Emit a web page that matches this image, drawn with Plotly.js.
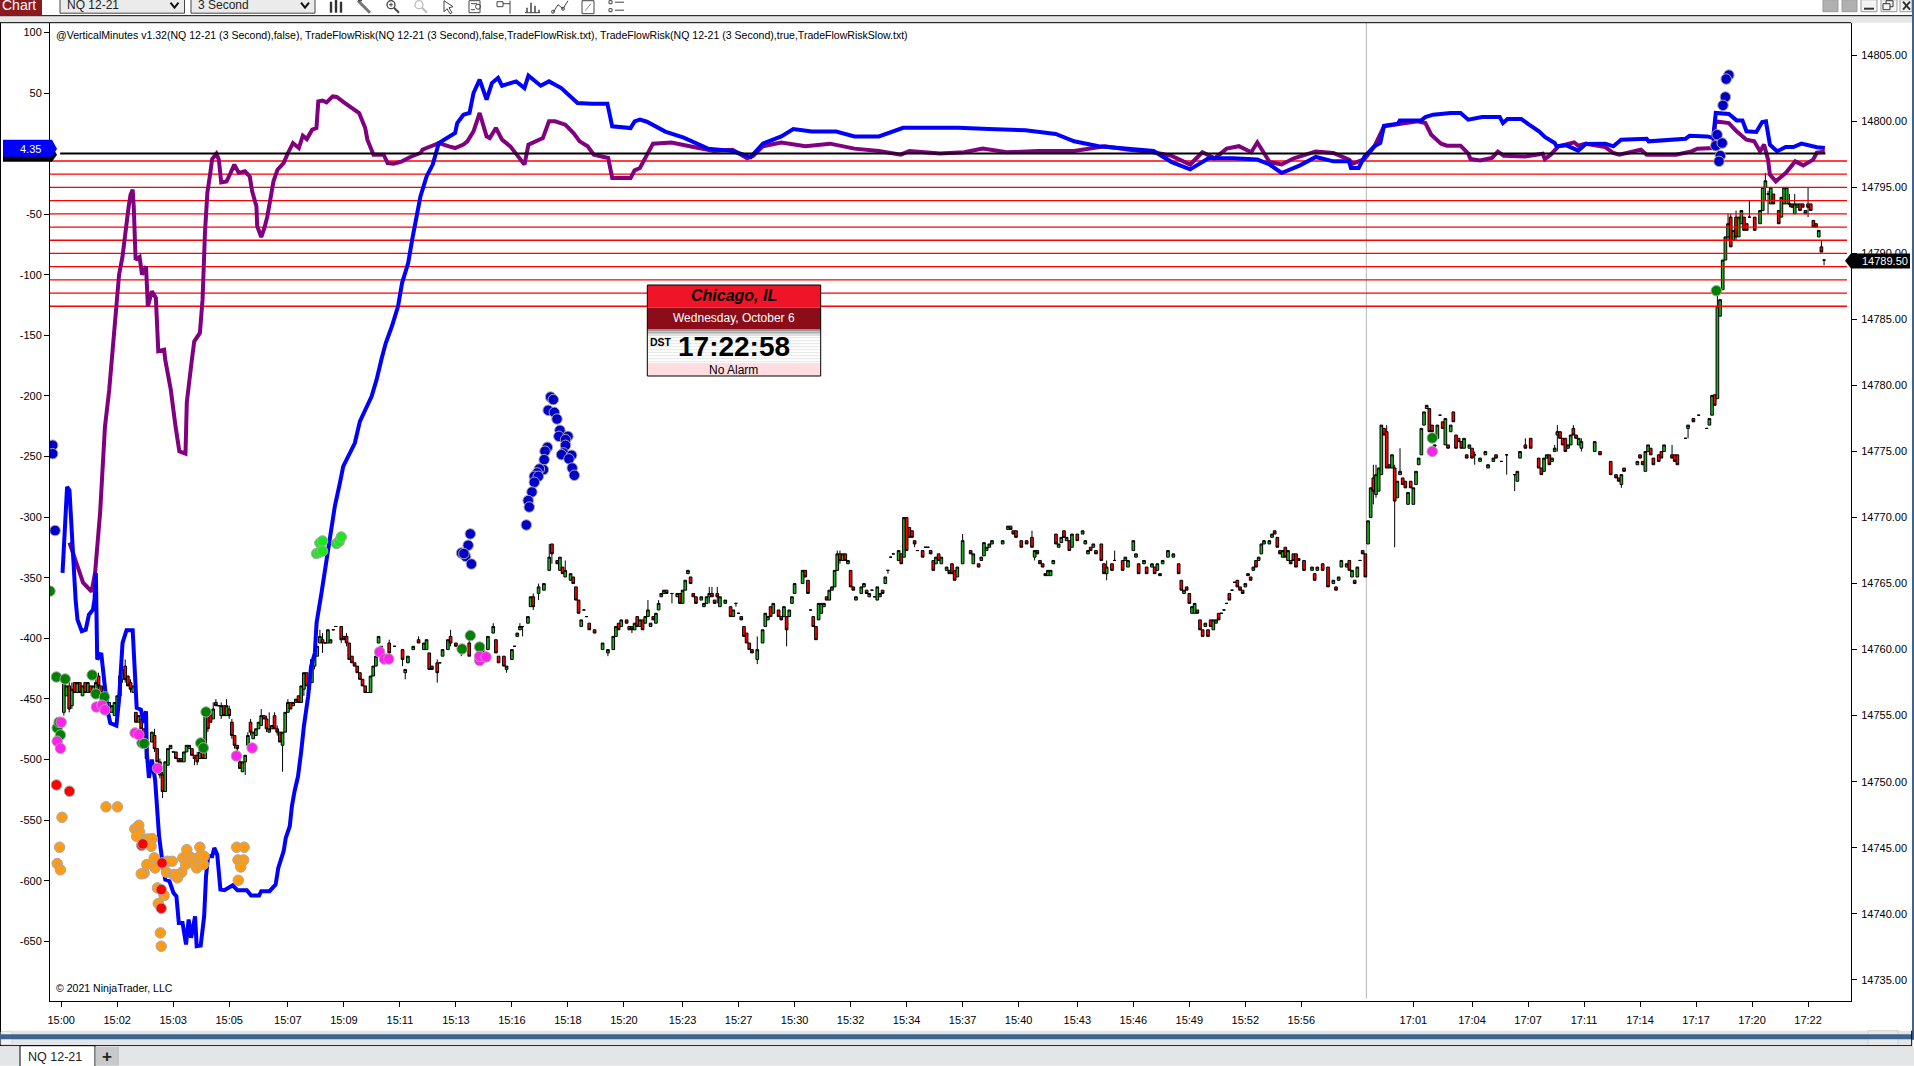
<!DOCTYPE html>
<html><head><meta charset="utf-8">
<script src="https://cdn.plot.ly/plotly-3.0.1.min.js"></script>
<style>html,body{margin:0;padding:0;background:#fff;overflow:hidden}#c{width:1914px;height:1066px}</style>
</head><body><div id="c"></div>
<script>
// ---------- DATA ----------
const tickBars=[0,21,42,63,85,106,127,148,169,190,211,233,254,275,296,317,338,359,381,402,423,444,465,507,529,550,571,592,613,634,655];
const tickLabels=['15:00','15:02','15:03','15:05','15:07','15:09','15:11','15:13','15:16','15:18','15:20','15:23','15:27','15:30','15:32','15:34','15:37','15:40','15:43','15:46','15:49','15:52','15:56','17:01','17:04','17:07','17:11','17:14','17:17','17:20','17:22'];
const riskTicks=[100,50,0,-50,-100,-150,-200,-250,-300,-350,-400,-450,-500,-550,-600,-650];
const riskTickLabels=['100','50','','-50','-100','-150','-200','-250','-300','-350','-400','-450','-500','-550','-600','-650'];
const priceTicks=[14805,14800,14795,14790,14785,14780,14775,14770,14765,14760,14755,14750,14745,14740,14735];
const priceTickLabels=['14805.00','14800.00','14795.00','14790.00','14785.00','14780.00','14775.00','14770.00','14765.00','14760.00','14755.00','14750.00','14745.00','14740.00','14735.00'];
const redLevels=[14797,14796,14795,14794,14793,14792,14791,14790,14789,14788,14787,14786];
const priceBase=14700;
// rows: bar, open, close, [high, low]  (price minus priceBase)
const barsOpening=[[1,55.25,57.5,57.5,55],[2,56.5,57.25],[3,57.25,55.5,57.75,55.25],[4,55.75,57,57.5,55.5],[5,57.5,56.75],[6,56.75,57.5],[7,57.5,56.75],[8,56.5,57.25],[9,57.5,56.75],[10,56.75,57.5],[11,57.25,56.75],[12,56.5,57.25],[13,56.75,57.5,57.75,56.5],[14,58,57.25,58.25,57],[15,57.25,56.75],[17,56.75,56],[18,56,55.25],[19,55.25,55.75],[20,55,56],[21,55,56.5],[22,56.5,58,58.25,56.5],[23,57.75,58.5,59,57.5],[24,58.75,57.75,59.25,57.5],[25,58,57.25],[26,57.5,57,57.75,56.75],[27,56.75,57.25],[28,55.25,54.5],[29,54.5,55],[30,54.75,54],[31,54,52.75,54,52.5],[32,52.5,51.75,52.75,51.25],[34,53,53.75],[35,53.5,52.5,54,52.25],[36,52.5,51.5],[37,51.5,50.5,51.75,50.25],[38,50.5,49.25,50.75,48.75],[39,49.25,51.5,51.5,49.25],[40,51.25,52.5],[41,52.5,52.75],[42,52.25,52.25],[43,52.25,51.75],[44,51.75,51.5],[45,51.75,51.5],[46,51.5,52.25],[47,52.25,52.75],[48,52.5,52.75],[49,52.5,52],[50,52,51.75,52,51.25],[51,52,51.5,52.25,51.25],[52,51.75,52.25],[53,52.25,51.75],[54,51.75,55.25,55.5,51.75],[55,55,54,55.25,53.75],[56,55,54.5],[57,54.75,55.5,56,54.75],[58,56,55.75,56.25,55.75],[59,55.75,55.75],[60,55,55.75,56,54.75],[61,55.75,55],[62,55,55.75,56.25,55],[63,55.5,55,55.75,54.75],[64,54.5,53.5,54.75,53.25],[65,53.5,52.75,53.5,52.5],[66,52.75,52.5,52.75,52],[67,51.5,51,51.75,51],[68,50.75,51.5],[69,51.5,52,52,50.5],[70,52.75,53.5,53.75,52.5],[71,54.5,53.75,54.75,53.5],[72,53.25,53.75],[73,53.5,54],[74,54,54.5],[75,54.25,55,55.5,54.25],[76,55,54.75],[77,54.75,54,55,53.75],[78,53.75,54,55.25,53.75],[79,54,54.25],[80,55,54,55.25,54],[81,54,53.75,54.25,53.5],[82,53.75,53],[83,52.75,53.75,53.75,50.75],[84,53.75,55.25],[85,55.25,56,56.25,55.25],[86,56,55.5],[87,55.75,56],[88,56,56.25],[89,56.5,56],[90,56,57.25],[91,57,58.25,58.25,56.5],[92,58.25,57.25],[93,57,57.5],[94,57.5,59.25],[95,58.75,59.5,59.75,58.5],[96,59.5,60.25],[97,60.5,61,61.5,60.5],[98,60.75,60.5,61.25,59.75],[99,60.5,60.5],[100,60.5,61.5],[101,60.5,60.75],[102,61.5,61.5],[103,61.75,61.75],[105,61.75,60.75,61.75,60.5],[106,61,60.75],[107,61,60.5,61.25,60.25],[108,60.5,59.25],[109,59.5,59],[110,59,58.75],[111,58.75,58.25],[112,58.25,57.75],[113,57.75,57.25],[114,57.25,56.75],[115,56.75,56.75],[116,56.75,58],[117,58,58.75],[118,58.75,59.5]];
const barsEarly=[[119,60.5,61],[120,60.25,60],[123,60.5,59.75,60.75,59.5],[125,60.25,60.25],[128,60,59.25,60,58.75],[129,58.25,58.5,58.5,57.75],[130,59,59.5],[132,60,60.25],[134,60.75,60.5,61,60.5],[136,60,60.5],[137,60,60.75],[138,59.75,58.5],[139,58.75,58.5],[141,59,58.25,59.25,57.5],[142,59,59],[143,59.5,60],[145,60,60.75],[146,61,60.5,61.5,60.25],[148,60.5,60.25],[150,59.75,60,60.25,59.5],[153,60.5,59.5,61.5,59.5],[157,60,59.5],[158,60,59.5],[160,60,61],[162,61.25,61.75,62,61.25],[163,60.75,59.75],[164,59.5,59],[166,59.5,58.75],[167,58.5,58.75,58.75,58.25],[169,59.25,60],[170,60.25,60.25],[171,61,61.25],[172,61.5,61.75,62,61.5],[173,61.75,61.75,61.75,61],[175,62,62.5],[176,63.25,64],[177,64,63.25,64.25,63],[179,64.25,64.75,65,63.75],[181,64.5,65],[183,66,67,68,66],[184,68,67.25,68,66.5],[186,66.75,66.5],[187,66,67],[188,66.25,65.75],[189,65.5,66,66.75,65.5],[191,65.25,65.75],[192,65.5,65],[193,64.75,63.75],[194,63.75,62.75],[195,61.75,62.25],[196,63,63],[197,62.5,62.5],[198,62,61.5],[200,61.5,61.25]];
const barsMidday=[[203,60,60.5],[205,59.75,60,60,59.5],[207,60,61],[208,61,61.75],[209,62,61.5],[210,61.75,62.25],[212,62.25,62],[213,61.75,61.5],[214,61.75,61.5,61.75,61.25],[215,61.5,62],[216,62.5,61.75],[217,61.75,62.25],[218,62.25,61.5],[219,62,62.5],[220,62.5,63,63.75,62.5],[221,61.75,62],[222,62.5,62.25],[223,62,62.75],[224,63,63.5,63.75,63],[225,64,64.25],[226,64.25,64.5],[227,64.5,64.25],[229,64.25,64.25,64.25,63.5],[231,64,64.25],[232,64.25,63.5],[233,63.5,64.5],[234,64.5,65.25],[235,65.75,66],[236,65.5,65],[237,64.25,64],[238,64,63.5],[240,63.75,64],[241,63.25,63.5],[242,63.5,64],[243,64,64.25,64.75,63.5],[244,64.25,64,64.75,64],[245,63.75,63.5],[246,64.25,64,64.75,63.5],[247,63.25,64],[249,63.5,63.75],[251,63.25,62.5],[252,62.5,63],[253,63.5,63.5,63.5,63.25],[254,62.75,62.75],[255,62.5,62.25],[256,61.75,61],[257,61.25,60.5],[258,60.5,60],[259,60,59.75],[261,59.25,60,61,58.9],[263,60.5,61.5],[264,61.75,62.75],[265,62.25,62.5],[266,63.25,62.5],[267,62.75,63.5],[269,63,62.5],[270,62.5,62.25],[271,62.5,63.25],[272,62.5,61.5,62.5,60.25],[273,62.5,63],[274,63.5,64],[275,64.25,65],[278,65,66],[279,66,65.5],[280,65.25,64.25],[281,63,63],[282,62.5,61.75],[283,61.75,60.75],[284,62.25,63.5],[285,62.75,63.5],[286,63.25,63.5],[287,64,63.75],[288,63.75,64.5],[289,64.5,64.75],[290,64.75,66],[291,66,67.25,67.5,66],[292,67.25,66.75,67.5,66.5],[293,66.75,67.25],[294,67.25,66.75],[295,66.5,66.75],[296,66,64.75],[297,64.75,64.5],[298,63.75,64],[300,64.25,64.75],[301,64.75,65],[302,64.5,64.25],[303,64,64.25],[304,64.5,64.5],[305,64,64],[306,63.75,64.75],[307,64,64.25],[308,64.5,64.25],[309,65,65.5],[310,66,66,66,65.75],[311,67,67],[312,67.25,67.25],[314,66.75,67.5],[315,67.25,66.5],[316,67,70],[317,70,67.5],[318,69.25,68.5],[319,69,68.5],[320,68.25,68,68.25,67.75],[321,67.5,67.5],[323,67.5,67],[324,67.75,67.75],[325,67.75,67.75],[326,67.5,67.25],[327,66.75,66],[328,66.5,67],[329,67.25,66.75],[330,66.5,67],[332,66,66.25],[333,66,65.75],[334,66.5,65.75],[335,66,65.25],[336,65.5,66.25],[338,66.5,68.25,68.75,66.5],[341,67.5,67.25],[342,66.5,67.25],[344,66.5,66.25],[345,66.75,67],[346,67.1,68.1],[347,67.5,67.75],[348,67.75,68],[349,68,68.25]];
const barsLate=[[353,68,68.25],[355,69.1,69.35],[356,69.35,69.1],[357,69,68.75],[358,69,68.5],[360,68.25,67.75],[362,68.25,68],[364,68.5,67.75,69,67.75],[365,67,67.5,67.5,66.75],[366,67.5,67.25],[367,66.75,66.5],[368,66.5,66.25],[369,65.75,65.6],[370,65.6,66],[371,65.6,66],[372,66.5,66.75],[373,68.75,68],[374,67.75,68],[375,68.1,68.5],[376,69,68.5],[377,68.25,68.5],[378,68.25,67.5],[379,67.75,68.75],[381,68.75,68.25],[383,68.75,69],[384,68,68.25],[385,67.25,67.5],[386,67.75,67.5],[387,67.75,68],[388,67.5,67.25],[390,68,66.75],[391,66.5,65.75],[392,65.75,66.25,66.75,65.25],[394,66.5,66],[395,66.75,66.75,67.5,66.75],[398,66.75,66],[399,66.75,67],[400,66.25,66.75],[402,67.5,68.25],[403,67,67.25],[404,66.5,65.75],[406,66.5,66.75],[407,66.25,65.75],[409,66.25,66.5],[410,66.25,65.75],[411,66,66.5],[412,65.75,65.6],[413,66.5,66.75],[415,67,67.5],[417,67,67.25],[419,66.5,65.75],[420,65.25,64.5],[421,64.25,64.5],[422,64.75,64.5],[423,64.25,63.5],[424,62.75,63.25],[425,62.75,63.5],[426,63,62.75],[427,62.25,61.5],[428,61.5,61],[429,61.75,62],[430,61.5,61],[431,62.25,61.75],[432,61.5,62.25],[433,62,62.25],[434,62.75,62.25],[435,62.75,62.75],[436,63,63],[437,63.5,63.5],[438,64.25,63.75],[439,64.5,64.5],[440,65.1,65.1],[441,65.25,64.75],[442,64.75,64.5],[443,64.5,64.25],[444,64.75,65],[445,65.6,65.75],[446,65.5,65.25],[447,66,66.25],[448,66.75,66.25],[449,66.75,67],[450,67.25,68],[451,68,68.25],[453,68,68.25],[454,68.5,68.75],[455,69,68.75],[456,68.5,67.75],[457,67.5,67.25],[458,67,67.5],[459,67.75,67],[460,66.75,67.5],[461,66.75,66.5],[462,67.25,66.75],[463,67.25,66.25],[464,66.9,66.75],[466,66.75,66],[469,66,66.25],[470,65.75,65.25],[471,66,66.25],[473,66.5,66],[475,66.25,64.75],[477,65,65.25],[478,64.75,64.5],[479,65.25,65.5],[480,66.25,66.75],[482,66.25,66.5],[483,66.75,66],[484,65.5,66],[485,65.25,65],[486,65.5,66.25],[487,66.75,66.75],[488,67.5,67.25],[489,67.25,65.5]];
const barsClose=[[490,68,69.75],[491,70,72.25],[492,73,72,74,71],[493,71.75,73.25,74,71.5],[494,72,73.75],[495,73.25,77],[496,76.75,76.25],[497,76.5,73.75,77,73.75],[498,74,73.75],[499,73.75,74.75],[500,73.75,71.25,74,67.75],[501,71.5,72.75],[502,73.25,73.5,75.25,73.25],[503,73,72.5],[504,72.75,72.25],[505,71,71.9],[506,72.75,72.25],[507,71,72.25],[508,72.5,73.5],[509,74,74.5],[510,74.75,76.75],[511,77,78],[512,78.25,78.5],[513,78.25,76.5],[514,77,76.5],[515,75.5,75.4],[516,76,77],[517,77.75,77.75],[518,77.25,76.75],[519,75.5,77.5],[520,75.5,75.25],[521,76.5,77],[522,78,77.25],[523,76.25,75.25],[524,76,75.75],[525,75.75,75.25],[526,75.25,76],[527,74.75,74.5],[528,75.25,75.5],[529,75.25,74.5],[530,74.75,74.75,75,74],[532,74.25,74.5],[534,74.75,75],[535,73.75,74],[537,74.25,74.5],[538,74.75,74.5],[540,74.25,74.25],[542,74.75,74.75,74.75,73.25],[545,73.25,73.25,73.25,72],[546,72.75,73.5],[547,74.5,75],[549,75.5,75.25,76,75.25],[551,76,75.25],[554,74.5,73.75],[555,73.75,73.25],[556,73.5,74.5],[557,74.5,74.75],[558,74.75,74],[559,74.25,74.5],[560,75,75.25,75.5,75],[561,76.25,76.5,77,75],[562,76.5,76],[563,76,75.5],[564,76,75],[565,75.25,75.5],[566,75.5,76.25],[567,76.75,76.25,77,76.25],[568,76.25,76],[569,75.5,76],[570,75.25,75.75,76,75],[575,75,75.75],[577,75,74.75],[581,74.25,73.25],[583,73.25,73],[584,73,72.75],[585,72.5,73.25,73.25,72.25],[586,73.75,73.5],[591,74,74.25],[592,74.75,74.5],[593,74.25,74],[594,73.5,75],[595,75,75.5],[596,75.25,74.75],[597,74.5,74],[599,74.75,74.25],[600,75,74.5],[601,75,75.5],[604,74.75,74.5,75.5,74.5],[605,74.75,74.25],[606,74.75,74],[609,76,76],[610,76.75,77,77,76],[612,77.5,77.25],[614,77.75,77.75],[617,76.75,76.75],[618,77,77.5],[619,77.75,79.25],[620,79.3,78.5],[621,79,86,87,79],[622,85.25,86.5],[623,87.25,89.5],[624,89.5,91.25],[625,91.25,92.25,93,91],[626,92.75,90.5,93,90.5],[627,91,91.75],[628,92.75,91.25,93.25,91],[629,91.25,92.75],[630,92.25,93.25],[631,92.75,91.75],[632,92.25,91.75],[633,92.75,92.75,94,92.75],[635,92.75,91.75],[637,92.25,93.25],[638,93.25,95],[639,95,95.5,96.1,94],[640,94.5,94.5,94.75,93],[641,93.75,95],[642,94.5,93.75],[644,93.25,92.25],[645,92.75,94.25],[646,93.75,95],[647,93.75,95],[648,93.75,93.75,94.5,93.5],[649,93.75,93.5],[650,93,93.75,94.5,93],[651,93.5,93.75],[652,93.75,93.25],[653,93.75,93.5],[654,93.25,93],[655,93.75,93.5,95,92.75],[656,93.75,93.25],[657,92.5,92],[658,92.25,92],[659,91.25,91.75],[660,90.5,90.1,91,90.1],[661,89.5,89.5,89.5,89.1]];

const purpleBar=[3.1,5.9,8.2,11.4,12.7,14.6,16.4,18,19.1,19.9,21.1,21.7,23,23.9,25.3,26,26.8,27.2,27.9,29.4,30.3,31.8,32.5,34,35.5,36.4,38.6,39,41.1,42.9,44.3,46.6,47.1,49,49.9,52,53,53.9,54.8,55.9,56.6,58.2,59.1,60,62,63.5,64.9,66.6,68.9,70.7,71.6,73.2,73.5,75,76.2,77.3,78.4,79.6,81.1,83.4,84.9,86.9,89.1,90.6,92.1,94.1,95.7,96.4,98,99.5,101.8,103.3,106.4,109.4,111.7,114,114.8,117.1,120.9,122.4,124.7,127.8,130.9,134.7,135.5,137,141.6,145.4,147.7,150.8,152.3,154.6,156.9,159.5,160.7,163,165.3,168.4,173.7,175.2,177.5,180.6,182.9,185.2,189,192.1,194.4,197.4,199.7,205.1,206.6,213.5,215,217,221.9,228.8,235.7,244.8,251.7,257.2,259.5,263.1,270,279.1,288.3,297.4,306.6,314.8,318,329.5,338.6,345.5,354.6,366.1,379.8,391.3,400.4,409.6,416.4,423.3,427.9,432.5,437,441.6,446.2,448.5,453.1,457.6,462.2,470.4,477,482.9,484.3,488.7,490.2,492.4,496,508.6,511.5,513.7,517.4,519.6,524.7,527.6,528.4,532,536.5,538.7,540.9,548.9,555.5,556.3,558.5,561.4,567.3,568.8,571.7,579,582,584.2,592.3,594.5,605.5,611.3,613.5,619.4,620.2,625.3,628.2,631.9,634.8,637,638.5,640,640.7,642.9,646.6,650.2,653.2,656.9,658.3,661.3];
const purpleRisk=[-321,-339,-354,-361.5,-346,-296,-225.5,-195,-168.6,-142.5,-120.5,-99.9,-84.8,-65.5,-43.5,-33.9,-29.8,-43.5,-87.5,-85.3,-99.9,-93,-126,-113.6,-119.1,-163.1,-161.8,-170,-195,-225.5,-245.6,-247.6,-205,-170,-154.9,-148,-120.5,-65.5,-32.5,-16,-4.5,-0.1,-5,-23.7,-22.9,-16,-9.1,-16,-14.6,-18.8,-31.1,-43.5,-60,-68.8,-61.4,-51.8,-35.3,-22.9,-13.3,-7.8,-0.1,8.7,4.6,14.8,12,19.7,21.1,43.1,43.7,42.3,47.2,46.7,41.7,37.6,33.5,21.1,11.5,-0.9,-0.9,-7.8,-8.3,-6.4,-2.8,0.5,3.2,4.6,8.7,6,4.6,7.4,10.1,18.4,33.5,14.2,12.8,21.1,11.5,6,-9.1,7.4,10.1,12.8,26.6,26.6,23.9,17,10.1,6,-0.9,-3.6,-20.1,-20.1,-13.8,-11.9,8.2,9.2,6.1,2.1,3.1,-3.9,-1.9,6.1,9.2,6.1,8.2,4.1,2.1,-0.9,2.1,0.1,1.1,4.1,1.1,2.1,2.1,6.1,3.1,1.1,-1.9,-9,1.1,-3.9,4.1,6.1,1.1,9.2,-7,-9,-3.9,1.8,0.5,-5,-8.3,-4.5,-0.1,6,22.5,26.6,25.2,15.6,8.2,6.5,6.5,-0.1,-4.5,-5.6,-3.6,1.6,-1.7,-2.3,-0.1,-4.5,-0.9,6,9.3,6.5,8.2,5.4,0.5,-0.9,3.2,-0.9,-0.9,1.8,4,4.6,26.6,25.2,18.4,11.5,10.1,1.8,7.4,-5,-17.4,-22.9,-16,-6.4,-9.7,-5,0.9,1.6];
const blueBar=[0.5,2.2,3.1,4.5,5.4,6.1,7.7,9.2,10.4,11.9,12.5,13,13.5,15,16.1,17.3,18.4,20.7,21.7,23,24.5,26.8,27.5,28.3,29.9,30.9,31.8,32.1,32.9,34,35.2,36,36.7,38,39,40.6,42.1,43.2,44.1,45.5,46.8,47.8,48.7,50.2,50.8,52.3,53.6,54.3,55.1,56.6,57.4,58.5,59.7,61.2,64.3,66.1,69.6,71.2,74.2,75,78.1,80.4,81.4,83.4,84.2,85.7,86.5,87.5,88.8,90,91,92.6,93.7,95.1,95.75,97.6,99.5,101.4,102.6,104.5,105.75,110.1,112,116.4,118.25,120.2,121.7,124,126.3,127.8,130.1,131.6,133.2,134.7,137,139.3,141.6,147.7,148.5,150.8,153.1,154.6,156.9,157.6,159.5,161.5,163.8,165.3,170.6,173.7,175.2,179.8,182.9,187.5,193.6,199,204.8,206.6,213.5,215,217,219.6,226.5,233.4,242.5,251.7,258.5,263.1,270,274.5,281.4,290.6,297.4,306.6,315.7,324.9,336.3,347.8,361.5,372.9,379.8,389,400.4,409.6,416.4,423.3,430.2,439.3,448.5,453.1,457.6,462.2,464.5,470.4,477,482.9,483.6,486.5,488.7,492.4,494.6,496,501.2,501.9,510,511.5,514.4,521,524.7,527.6,532.8,539.4,540.6,542.3,547.5,550.4,554.1,556.3,560,560.7,564.4,568.8,571.7,579,582,584.9,594.5,595.2,609.1,610.6,617.2,619.4,620.4,625.3,628.2,630.4,631.9,635.6,637.8,639.2,640.7,643.4,646.6,649.5,652.5,658.3,661.3];
const blueRisk=[-346,-275,-278,-336,-368,-384.5,-394.1,-392.8,-380.4,-376.3,-368,-346,-417.5,-412,-436.8,-458.8,-469.8,-472,-450.5,-403.8,-393.3,-393.3,-423,-457.4,-458.8,-469.8,-460.1,-494.5,-515.1,-500,-516.5,-546.8,-563.3,-585.3,-599,-600.4,-610,-612.8,-634.8,-634.8,-652.6,-632,-647.1,-629.3,-654,-653.5,-629.3,-596.3,-579.8,-579.8,-572.9,-578.4,-607.3,-607.8,-603.7,-607.8,-607.8,-612.2,-612.2,-608.6,-608.6,-603.1,-589.4,-575.6,-564.6,-555,-538.5,-526.1,-513.8,-493.1,-472.5,-447.8,-423,-412,-387.3,-362.5,-335,-310.3,-291,-271.8,-258,-238.8,-220.9,-200.3,-186.5,-168.6,-156.3,-142.5,-126,-106.8,-90.3,-71,-51.8,-35.3,-18.8,-9.1,8.7,17,25.2,32.1,33.5,50,61,56.9,44.5,58.2,62.4,56,59.6,54.1,64.3,56,59.6,54.1,41.7,41.2,41.2,22.5,21.1,26.6,28,26.3,18.2,13.2,4.1,2.1,-2.9,8.2,14.2,20.2,18.2,18.2,14.2,14.2,21.3,21.3,21.3,20.2,19.2,16.2,10.2,6.1,4.1,2.1,-7,-13,-3.9,-3.9,-4.9,-9,-16,-12,-9.7,-2.8,-6.4,-6.4,-11.9,-11.9,-2.3,6,8.7,23,24.7,27.4,27.4,30.2,32.1,33.5,33.5,28,30.2,30.2,25.2,28.5,28.5,23.9,18.4,13.7,8.7,6,6.8,2.4,7.9,8.2,6,11.5,12.3,10.1,12.3,14.8,14.2,12.9,33.5,32.7,27.4,27.4,18.4,17.8,26,26.6,7.4,1.9,5.4,5.4,8.2,5.2,4.6];
const zeroBars=[-0.4,661.5];
const zeroRisk=[0,0];

const darkGreenBar=[-4.2,-1.8,1.5,11.6,13,16.2,-1.5,-0.8,-0.3,30.3,31.1,52.3,53.3,54.3,150.3,153.4,156.9,514.1,620.6];
const darkGreenVal=[-361,-431.8,-433.5,-430.2,-445.8,-448.3,-473.9,-469.2,-479.7,-486.3,-486.8,-486.3,-490.4,-460.7,-408.7,-397.7,-407.1,-234.6,-113.1];
const magentaBar=[0,-1.5,-0.3,13.2,15.3,16.4,27.7,29.1,36.1,65.7,71.6,119.4,121.2,122.8,156.9,156.9,159.3,514.1];
const magentaVal=[-469.2,-484.9,-490.7,-456.6,-455.2,-459,-478,-479.4,-507.2,-497,-490.4,-411.2,-417,-417,-418.3,-414.8,-415.3,-245.7];
const redBar=[-1.8,3.1,30.2,30.6,37.8,37.5,37.5];
const redVal=[-520.9,-526.1,-570.7,-569.6,-585.3,-622.7,-607.3];
const orangeBar=[16.8,21.1,0.3,-0.6,-1.5,-0.3,27.6,29.1,29.4,28.3,31.4,32.4,34.1,33.7,34.9,32.1,35.2,31.1,30,36.1,38.6,36.4,37.2,37.5,39.8,41.6,39.5,42.1,43.6,45.2,42.9,45.6,47.1,47.8,46.7,49,49.7,50.8,52,52,53.6,53.3,65.8,68.6,66.3,68.4,67.3,66.4];
const orangeVal=[-539,-539,-547.6,-572.3,-585.8,-591,-557.2,-554.2,-559.7,-563.3,-566,-565.5,-565.2,-571.5,-581.1,-586.6,-589.4,-593.8,-594.3,-605.9,-612.2,-618.8,-643,-654,-583.9,-583.9,-593,-594.9,-597.6,-593,-594.9,-581.1,-574.3,-579.8,-586.6,-581.1,-585.3,-589.4,-572.3,-579.8,-579.8,-586.6,-572.3,-572.3,-582.8,-582.8,-588.6,-599.6];
const limeBar=[97,98,95.75,96.75,98,103.25,104.25,105];
const limeVal=[-321.3,-319.6,-330,-329,-327.9,-321.8,-319.9,-316.3];
const navyBar=[-3.2,-3.2,-2.3,153.4,152.6,151.6,150.1,151,153.8,183.5,184.5,182.6,184.9,185.9,187,186.6,190,189.1,189.1,188.3,187.6,191.4,190.4,191.6,192.4,182.3,181.4,181.1,180.8,179.3,178.5,177.4,178.9,177.4,176.5,175.1,175.5,174.4,625.3,624.3,624,623.1,620.9,620.4,622.8,622.1,621.6];
const navyVal=[-240.6,-247.6,-311,-313.8,-323.2,-332.3,-329.5,-330,-338.6,-200.8,-203,-211.8,-213.5,-219,-228.3,-233.3,-233.3,-236,-240.7,-247,-248.4,-248.9,-251.9,-259.4,-265.4,-242.3,-245.6,-252.5,-260.8,-260.2,-263.5,-266.3,-266.3,-271.2,-279.2,-286.3,-291.6,-306.4,64.8,61.5,46.7,39.8,15.6,6.5,8.7,-1.7,-6.4];
const sessionBreakBar=489.4;
const currentPrice='14789.50', currentRisk='4.35';

// ---------- BUILD ----------
const rows=[...barsOpening,...barsEarly,...barsMidday,...barsLate,...barsClose];
const open=rows.map(r=>priceBase+r[1]), close=rows.map(r=>priceBase+r[2]);
const high=rows.map(r=>priceBase+(r.length>3?r[3]:Math.max(r[1],r[2])));
const low=rows.map(r=>priceBase+(r.length>3?r[4]:Math.min(r[1],r[2])));
const barX=rows.map(r=>r[0]);
const xMin=-4.2,xMax=671.1;
const lvX=[],lvY=[];redLevels.forEach(l=>{lvX.push(xMin,669.6,null);lvY.push(l,l,null)});
const FONT='"Liberation Sans",Arial,sans-serif';
const dots=(x,y,c)=>({type:'scatter',mode:'markers',x,y,yaxis:'y2',hoverinfo:'skip',showlegend:false,
  marker:{size:10.5,color:c,line:{color:'#a8a8a8',width:1}}});
const traces=[
 {type:'candlestick',x:barX,open,high,low,close,yaxis:'y',hoverinfo:'skip',showlegend:false,
  increasing:{line:{color:'#000',width:1},fillcolor:'#1fb01f'},
  decreasing:{line:{color:'#000',width:1},fillcolor:'#ff0000'}},
 {type:'scatter',mode:'lines',x:lvX,y:lvY,yaxis:'y',line:{color:'#ff0000',width:1.3},hoverinfo:'skip',showlegend:false},
 {type:'scatter',mode:'lines',x:purpleBar,y:purpleRisk,yaxis:'y2',line:{color:'#800080',width:4},hoverinfo:'skip',showlegend:false},
 {type:'scatter',mode:'lines',x:blueBar,y:blueRisk,yaxis:'y2',line:{color:'#0000ff',width:4},hoverinfo:'skip',showlegend:false},
 {type:'scatter',mode:'lines',x:zeroBars,y:zeroRisk,yaxis:'y2',line:{color:'#000',width:2},hoverinfo:'skip',showlegend:false},
 dots(orangeBar,orangeVal,'#ff9a14'),dots(redBar,redVal,'#ff0000'),dots(darkGreenBar,darkGreenVal,'#008000'),
 dots(magentaBar,magentaVal,'#ff22ee'),dots(limeBar,limeVal,'#1ee61e'),dots(navyBar,navyVal,'#0000c8')
];
// pixel helpers for window furniture
const L=50,R=1851,T=23.3,B=1001.3;
const PX=p=>(p-L)/(R-L), PY=p=>1-(p-T)/(B-T);
const shapes=[],annos=[];
const rect=(x0,y0,x1,y1,fill,line,lw)=>shapes.push({type:'rect',xref:'paper',yref:'paper',x0:PX(x0),x1:PX(x1),y0:PY(y0),y1:PY(y1),fillcolor:fill||'rgba(0,0,0,0)',line:{color:line||'rgba(0,0,0,0)',width:line?(lw||1):0}});
const poly=(pts,fill,line,lw,open_)=>shapes.push({type:'path',xref:'paper',yref:'paper',
  path:pts.map((p,i)=>(i?'L':'M')+PX(p[0])+' '+PY(p[1])).join(' ')+(open_?'':' Z'),
  fillcolor:fill||'rgba(0,0,0,0)',line:{color:line||'rgba(0,0,0,0)',width:line?(lw||1):0}});
const seg=(x0,y0,x1,y1,c,w)=>poly([[x0,y0],[x1,y1]],null,c,w,true);
const circ=(x,y,r,c,w)=>shapes.push({type:'circle',xref:'paper',yref:'paper',x0:PX(x-r),x1:PX(x+r),y0:PY(y-r),y1:PY(y+r),line:{color:c,width:w}});
const text=(t,x,y,size,color,anchor,extra)=>annos.push(Object.assign({text:t,xref:'paper',yref:'paper',x:PX(x),y:PY(y),xanchor:anchor||'left',yanchor:'middle',showarrow:false,borderpad:0,font:{family:FONT,size,color:color||'#000'}},extra||{}));

// session divider
shapes.push({type:'line',xref:'x',yref:'paper',x0:sessionBreakBar,x1:sessionBreakBar,y0:PY(998.7),y1:1,line:{color:'#c4c4c4',width:1.3},layer:'below'});

// top toolbar
rect(0,0,1914,16,'#ffffff');rect(0,16.5,1914,23,'#e6e6e6');seg(0,16,1914,16,'#000',1);seg(0,23,1851,23,'#000',1);
rect(0,0,42,16,'#8b1a1f');text('Chart',19,5,14,'#fff','center');
[[60,184.5,'NQ 12-21'],[191,315,'3 Second']].forEach(d=>{rect(d[0],-2,d[1],13.5,'#ebebeb','#444',1);text(d[2],d[0]+6,5,12,'#222');
  poly([[d[1]-14,3],[d[1]-10,8],[d[1]-6,3]],null,'#111',2,true);});
const ic='#444';
[331,336,341].forEach((x,i)=>{rect(x-1.2,i==1?0:2,x+1.2,13,'#333')});
seg(358,1,370,13,'#777',3);seg(358,1,362,1,'#333',1);
circ(391,5,4,ic,1.3);seg(394,8,399,13,ic,2);seg(389,5,393,5,ic,1);seg(391,3,391,7,ic,1);
circ(419,5,4,'#bbb',1.3);seg(422,8,427,13,'#bbb',2);
poly([[444,1],[444,12],[447,9],[450,14],[452,13],[449,8],[453,7]],'#fff',ic,1);
rect(469,1,480,13,'#fff',ic,1);circ(478,7,2.5,ic,1);seg(471,4,477,4,ic,1);seg(471,10,475,10,ic,1);
rect(497,2,503,7,'#fff',ic,1);seg(503,4,510,4,ic,1);seg(510,1,510,14,ic,1);
[527,531,535,539].forEach((x,i)=>seg(x,[8,3,6,10][i],x,13,ic,1.5));seg(525,13,540,13,ic,1);
poly([[553,13],[558,5],[563,9],[568,1]],null,ic,1,true);circ(553,12,1.5,ic,1);circ(563,9,1.5,ic,1);
rect(582,1,594,14,'#fff',ic,1);seg(585,11,591,4,'#888',1);
rect(609,1,612,4,'#fff',ic,1);rect(609,9,612,12,'#fff',ic,1);seg(615,2.5,624,2.5,ic,1);seg(615,10.5,624,10.5,ic,1);
// window buttons
rect(1823,0,1838,12,'#b0b0b0','#999');rect(1842,0,1857,12,'#b0b0b0','#999');
rect(1861,0,1877,12,'#f4f4f4','#999');seg(1864,9,1874,9,'#333',2);
rect(1881,0,1897,12,'#f4f4f4','#999');rect(1886,1,1893,7,'#f4f4f4','#333',1);rect(1883,4,1890,10,'#f4f4f4','#333',1);
rect(1900,0,1912,12,'#f4f4f4','#999');seg(1903,2,1910,10,'#333',2);seg(1910,2,1903,10,'#333',2);
// outer borders
seg(0.5,23,0.5,1046,'#000',1);rect(1912,0,1914,1040,'#3f658c');
// bottom bars
rect(1,1031,1912,1046,'#e4e5e7');rect(1868,1031,1898,1046,'#e8e8e8','#cfcfcf');rect(1,1032,12,1045,'#f2f2f2','#d8d8d8');
rect(0,1034.5,1914,1039.5,'#3f658c');seg(0,1046,1912,1046,'#000',1);
rect(0,1046.5,1914,1066,'#e4e5e7');seg(1911.7,1031,1911.7,1046,'#000',1);
rect(20,1046,95,1067,'#ffffff','#000');rect(95.5,1047,119,1066,'#c8c9cb');
text('NQ 12-21',54.5,1057,12.5,'#222','center');text('+',107,1056.5,17,'#222','center',{font:{family:FONT,size:17,color:'#222',weight:700}});
// chart headers
text('@VerticalMinutes v1.32(NQ 12-21 (3 Second),false), TradeFlowRisk(NQ 12-21 (3 Second),false,TradeFlowRisk.txt), TradeFlowRisk(NQ 12-21 (3 Second),true,TradeFlowRiskSlow.txt)',55,35,10.55,'#000');
text('\u00a9 2021 NinjaTrader, LLC',55,988,10.55,'#000');
// value flags
poly([[3,147],[52,147],[57,155],[52,162],[3,162]],'#000');
poly([[3,140],[52,140],[57,149],[52,157],[3,157]],'#0000ff');
text(currentRisk,42,149,11,'#fff','right');
poly([[1845,261],[1851,253.7],[1910,253.7],[1910,268.7],[1851,268.7]],'#000');
text(currentPrice,1861,261.3,11,'#fff','left');
// clock widget
const cx0=647.3,cx1=820.7;
rect(cx0,285.3,cx1,307.7,'#f01428');rect(cx0,307.7,cx1,330,'#8c0c18');
rect(cx0,330,cx1,363.3,'#ffffff');
['#9a9a9a','#b0b0b0','#c8c8c8','#dedede'].forEach((c,i)=>rect(cx0,330+i*1.6,cx1,331.6+i*1.6,c));
for(let y=338;y<363;y+=3)seg(cx0,y,cx1,y,'#e6e6e6',1);
rect(cx0,363.3,cx1,376.3,'#ffdde0');rect(cx0,285.3,cx1,376.3,null,'#000',1);
text('Chicago, IL',733.5,296,16,'#000','center',{font:{family:FONT,size:16,color:'#000',weight:700,style:'italic'}});
text('Wednesday, October 6',733.5,318.7,12,'#fff','center');
text('DST',649,342,10.5,'#000','left',{font:{family:FONT,size:10.5,color:'#000',weight:700}});
text('17:22:58',733.5,347,28,'#000','center',{font:{family:FONT,size:28,color:'#000',weight:700}});
text('No Alarm',733.5,370,12,'#000','center');

const tf={family:FONT,size:11,color:'#000'};
const layout={width:1914,height:1066,autosize:false,paper_bgcolor:'#fff',plot_bgcolor:'#fff',showlegend:false,hovermode:false,dragmode:false,
 boxgap:0,boxgroupgap:0,
 margin:{l:L,r:1914-R,t:T,b:1066-B,pad:0},
 xaxis:{range:[xMin,xMax],tickmode:'array',tickvals:tickBars,ticktext:tickLabels,ticks:'outside',ticklen:5,tickwidth:1,tickcolor:'#000',
  showline:true,linecolor:'#000',linewidth:1,showgrid:false,zeroline:false,tickfont:tf,ticklabelstandoff:4,rangeslider:{visible:false},fixedrange:true},
 yaxis:{side:'right',range:[14733.39,14807.45],tickmode:'array',tickvals:priceTicks,ticktext:priceTickLabels,ticks:'outside',ticklen:5,tickwidth:1,tickcolor:'#000',
  showline:true,linecolor:'#000',linewidth:1,showgrid:false,zeroline:false,tickfont:tf,ticklabelstandoff:2,fixedrange:true},
 yaxis2:{side:'left',overlaying:'y',range:[-699.2,107.76],tickmode:'array',tickvals:riskTicks,ticktext:riskTickLabels,ticks:'outside',ticklen:5,tickwidth:1,tickcolor:'#000',
  showline:true,linecolor:'#000',linewidth:1,showgrid:false,zeroline:false,tickfont:tf,fixedrange:true},
 shapes,annotations:annos};
Plotly.newPlot('c',traces,layout,{displayModeBar:false,staticPlot:true});
</script></body></html>
